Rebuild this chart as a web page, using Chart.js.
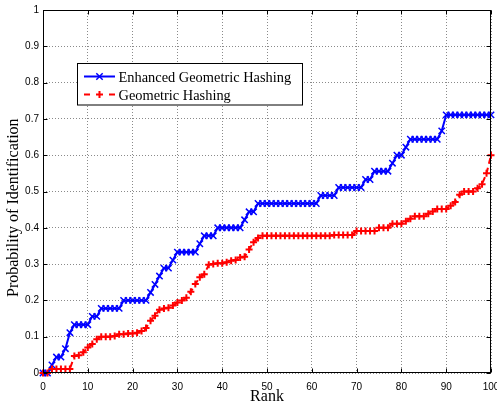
<!DOCTYPE html>
<html><head><meta charset="utf-8">
<script src="https://cdn.jsdelivr.net/npm/chart.js@4.4.0/dist/chart.umd.min.js"></script>
<style>html,body{margin:0;padding:0;background:#fff;overflow:hidden;}</style>
</head><body>
<canvas id="c" width="497" height="407"></canvas>
<script>
const ranks = [0,1,2,3,4,5,6,7,8,9,10,11,12,13,14,15,16,17,18,19,20,21,22,23,24,25,26,27,28,29,30,31,32,33,34,35,36,37,38,39,40,41,42,43,44,45,46,47,48,49,50,51,52,53,54,55,56,57,58,59,60,61,62,63,64,65,66,67,68,69,70,71,72,73,74,75,76,77,78,79,80,81,82,83,84,85,86,87,88,89,90,91,92,93,94,95,96,97,98,99,100];
const enhancedGH = [
 0,0,0.022,0.044,0.044,0.067,0.111,0.133,0.133,0.133,
 0.133,0.156,0.156,0.178,0.178,0.178,0.178,0.178,0.2,0.2,
 0.2,0.2,0.2,0.2,0.222,0.244,0.267,0.289,0.289,0.311,
 0.333,0.333,0.333,0.333,0.333,0.356,0.378,0.378,0.378,0.4,
 0.4,0.4,0.4,0.4,0.4,0.422,0.444,0.444,0.467,0.467,
 0.467,0.467,0.467,0.467,0.467,0.467,0.467,0.467,0.467,0.467,
 0.467,0.467,0.489,0.489,0.489,0.489,0.511,0.511,0.511,0.511,
 0.511,0.511,0.533,0.533,0.556,0.556,0.556,0.556,0.578,0.6,
 0.6,0.622,0.644,0.644,0.644,0.644,0.644,0.644,0.644,0.667,
 0.711,0.711,0.711,0.711,0.711,0.711,0.711,0.711,0.711,0.711,
 0.711];
const geometricH = [
 0,0,0.011,0.011,0.011,0.011,0.011,0.047,0.049,0.057,
 0.07,0.08,0.093,0.1,0.1,0.1,0.102,0.107,0.107,0.109,
 0.109,0.111,0.116,0.124,0.144,0.158,0.174,0.178,0.18,0.186,
 0.194,0.2,0.207,0.224,0.245,0.264,0.272,0.298,0.3,0.302,
 0.302,0.305,0.309,0.311,0.318,0.32,0.34,0.36,0.372,0.378,
 0.378,0.378,0.378,0.378,0.378,0.378,0.378,0.378,0.378,0.378,
 0.378,0.378,0.378,0.378,0.378,0.38,0.38,0.38,0.38,0.38,
 0.391,0.391,0.391,0.391,0.391,0.4,0.4,0.4,0.411,0.411,
 0.411,0.418,0.425,0.432,0.432,0.432,0.439,0.445,0.452,0.452,
 0.452,0.461,0.471,0.491,0.5,0.5,0.5,0.509,0.52,0.55,
 0.6];
const xTickLabels = ['0','10','20','30','40','50','60','70','80','90','100'];
const yTickLabels = ['0','0.1','0.2','0.3','0.4','0.5','0.6','0.7','0.8','0.9','1'];
const seriesNames = ['Enhanced Geometric Hashing','Geometric Hashing'];
const xTitle = 'Rank';
const yTitle = 'Probability of Identification';

const BLUE = '#0000ff', RED = '#ff0000';
const serif = '"Liberation Serif", "Times New Roman", serif';
const sans = '"Liberation Sans", Arial, Helvetica, sans-serif';

function pts(arr){ return ranks.map((r,i)=>({x:r,y:arr[i]})); }

function drawMarker(ctx, style, x, y, r, color, lw){
  ctx.save();
  ctx.strokeStyle = color; ctx.lineWidth = lw; ctx.setLineDash([]);
  ctx.beginPath();
  if (style === 'cross'){
    ctx.moveTo(x-r,y); ctx.lineTo(x+r,y); ctx.moveTo(x,y-r); ctx.lineTo(x,y+r);
  } else {
    const o = r*Math.SQRT1_2;
    ctx.moveTo(x-o,y-o); ctx.lineTo(x+o,y+o); ctx.moveTo(x-o,y+o); ctx.lineTo(x+o,y-o);
  }
  ctx.stroke();
  ctx.restore();
}

const decor = {
  id:'decor',
  afterDraw(chart){
    const ctx = chart.ctx, a = chart.chartArea;
    const xs = chart.scales.x, ys = chart.scales.y;
    ctx.save();
    ctx.strokeStyle = '#000'; ctx.lineWidth = 1; ctx.setLineDash([]);
    const L = Math.round(a.left)+0.5, R = Math.round(a.right)-0.5, T = Math.round(a.top)+0.5, B = Math.round(a.bottom)-0.5;
    ctx.strokeRect(L, T, R-L, B-T);
    ctx.beginPath();
    xTickLabels.forEach(t=>{
      const px = Math.round(xs.getPixelForValue(Number(t)))+0.5;
      ctx.moveTo(px,B); ctx.lineTo(px,B-4);
      ctx.moveTo(px,T); ctx.lineTo(px,T+4);
    });
    yTickLabels.forEach(t=>{
      const py = Math.round(ys.getPixelForValue(Number(t)))+0.5;
      ctx.moveTo(L,py); ctx.lineTo(L+4,py);
      ctx.moveTo(R,py); ctx.lineTo(R-4,py);
    });
    ctx.stroke();
    ctx.fillStyle = '#000';
    ctx.font = '16px ' + serif;
    ctx.textAlign = 'center'; ctx.textBaseline = 'alphabetic';
    ctx.fillText(xTitle, (a.left+a.right)/2, 401);
    ctx.save();
    ctx.translate(17.5, 297);
    ctx.rotate(-Math.PI/2);
    ctx.textAlign = 'left';
    ctx.fillText(yTitle, 0, 0);
    ctx.restore();
    const lx = 77.5, ly = 63.5, lw = 225, lh = 41.5;
    ctx.fillStyle = '#fff';
    ctx.fillRect(lx, ly, lw, lh);
    ctx.strokeStyle = '#000'; ctx.lineWidth = 1;
    ctx.strokeRect(lx, ly, lw, lh);
    ctx.strokeStyle = BLUE; ctx.lineWidth = 2;
    ctx.beginPath(); ctx.moveTo(84,76.5); ctx.lineTo(115,76.5); ctx.stroke();
    drawMarker(ctx,'crossRot',99.5,76.5,4.5,BLUE,1.5);
    ctx.strokeStyle = RED; ctx.lineWidth = 2;
    ctx.beginPath(); ctx.moveTo(84,94.5); ctx.lineTo(90,94.5); ctx.moveTo(109,94.5); ctx.lineTo(115,94.5); ctx.stroke();
    drawMarker(ctx,'cross',99.5,94.5,3.5,RED,2);
    ctx.fillStyle = '#000';
    ctx.font = '14.4px ' + serif;
    ctx.textAlign = 'left'; ctx.textBaseline = 'alphabetic';
    ctx.fillText(seriesNames[0], 118.5, 81.5);
    ctx.fillText(seriesNames[1], 118.5, 99.5);
    ctx.restore();
  }
};

new Chart(document.getElementById('c'), {
  type:'line',
  data:{
    datasets:[
      {label:seriesNames[0], data:pts(enhancedGH), borderColor:BLUE, backgroundColor:BLUE,
       borderWidth:2, pointStyle:'crossRot', pointRadius:4.5, pointBorderWidth:1.5,
       pointBorderColor:BLUE, tension:0, fill:false, clip:false, order:1},
      {label:seriesNames[1], data:pts(geometricH), borderColor:RED, backgroundColor:RED,
       borderWidth:2, borderDash:[6,4], pointStyle:'cross', pointRadius:3.5, pointBorderWidth:2,
       pointBorderColor:RED, tension:0, fill:false, clip:false, order:0}
    ]
  },
  options:{
    responsive:false, animation:false, devicePixelRatio:1,
    layout:{padding:{top:10, right:6, left:0, bottom:0}},
    plugins:{legend:{display:false}, tooltip:{enabled:false}},
    elements:{point:{hoverRadius:0}},
    scales:{
      x:{type:'linear', min:0, max:100,
        ticks:{stepSize:10, color:'#000', padding:8, font:{family:sans, size:10}, maxRotation:0,
          callback:(v)=>{const i = xTickLabels.indexOf(String(v)); return i>=0?xTickLabels[i]:'';}},
        grid:{color:'#8a8a8a', lineWidth:1, drawTicks:false},
        border:{display:false, dash:[1,2]},
        afterFit:(s)=>{s.height=34; s.paddingLeft=0; s.paddingRight=0;}
      },
      y:{type:'linear', min:0, max:1,
        ticks:{stepSize:0.1, color:'#000', padding:4, font:{family:sans, size:10},
          callback:(v)=>{const i = Math.round(v*10); return yTickLabels[i];}},
        grid:{color:'#8a8a8a', lineWidth:1, drawTicks:false},
        border:{display:false, dash:[1,2]},
        afterFit:(s)=>{s.width=43; s.paddingTop=0; s.paddingBottom=0;}
      }
    }
  },
  plugins:[decor]
});
</script>
</body></html>
